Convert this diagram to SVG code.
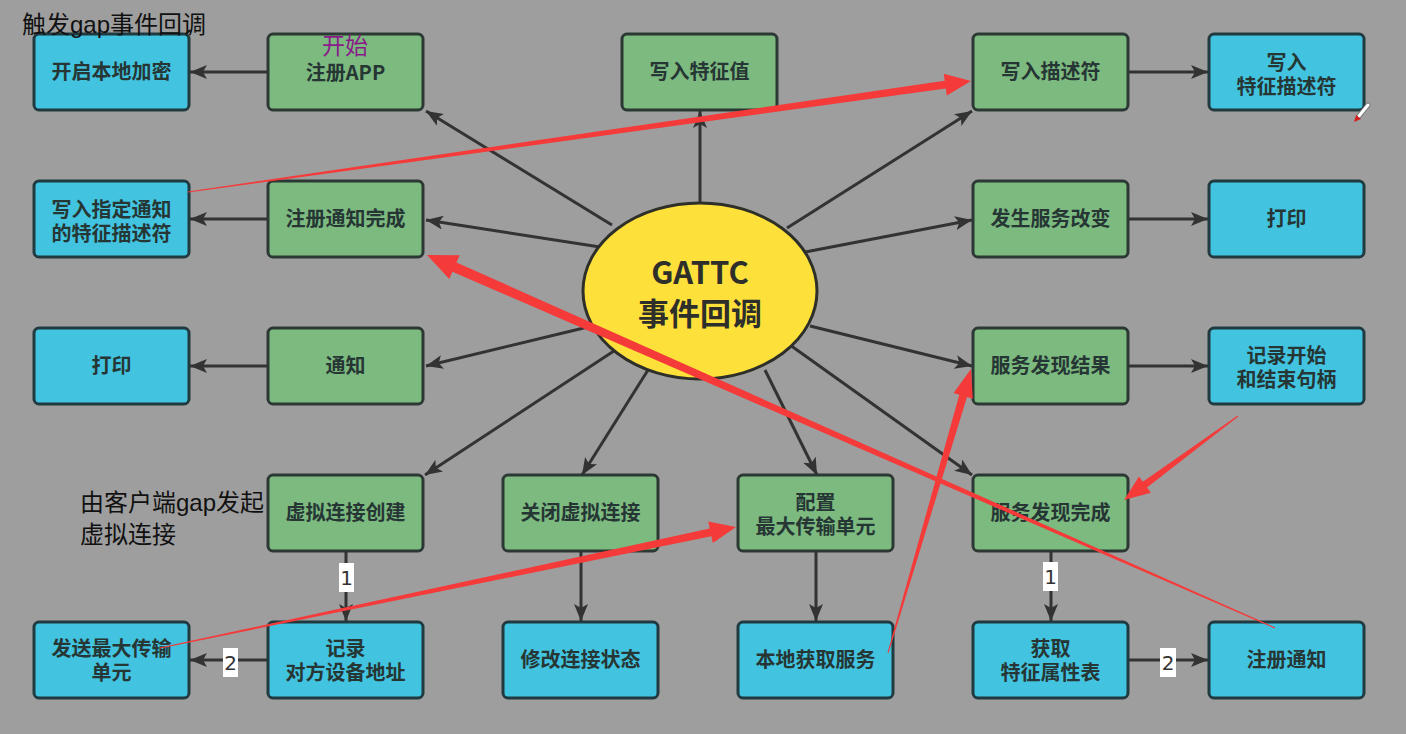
<svg xmlns="http://www.w3.org/2000/svg" width="1406" height="734" viewBox="0 0 1406 734">
<style>
.bg{fill:#9e9e9e}
.g{fill:#7cba80;stroke:#2c3833;stroke-width:3}
.b{fill:#42c3e0;stroke:#203a40;stroke-width:3}
.t{font-family:"Noto Sans CJK SC","Noto Sans",sans-serif;font-weight:bold;font-size:20px;fill:#263634;text-anchor:middle}
.c{stroke:#333;stroke-width:3;fill:none;marker-end:url(#ah)}
.lb{fill:#fff}
.lt{font-family:"DejaVu Sans",sans-serif;font-size:20px;fill:#333;text-anchor:middle}
.red{fill:#f53a3a}
.ann{font-family:"Liberation Sans","Noto Sans CJK SC",sans-serif;font-size:24px;fill:#111}
</style>
<defs>
<marker id="ah" markerUnits="userSpaceOnUse" markerWidth="18" markerHeight="14" refX="17" refY="7" orient="auto">
<path d="M0,0 L17,7 L0,14 L4,7 z" fill="#333"/>
</marker>
</defs>
<rect class="bg" x="0" y="0" width="1406" height="734"/>

<g id="connectors">
<line class="c" x1="612" y1="225" x2="426" y2="111"/>
<line class="c" x1="700" y1="206" x2="700" y2="111"/>
<line class="c" x1="787" y1="228" x2="972" y2="111"/>
<line class="c" x1="600" y1="247" x2="426" y2="220"/>
<line class="c" x1="800" y1="253" x2="972" y2="220"/>
<line class="c" x1="592" y1="326" x2="426" y2="366"/>
<line class="c" x1="810" y1="326" x2="972" y2="366"/>
<line class="c" x1="620" y1="347" x2="425" y2="475"/>
<line class="c" x1="648" y1="370" x2="582" y2="475"/>
<line class="c" x1="765" y1="370" x2="817" y2="475"/>
<line class="c" x1="790" y1="345" x2="972" y2="475"/>
<line class="c" x1="268" y1="72" x2="190" y2="72"/>
<line class="c" x1="268" y1="219" x2="190" y2="219"/>
<line class="c" x1="268" y1="366" x2="190" y2="366"/>
<line class="c" x1="1129" y1="72" x2="1208" y2="72"/>
<line class="c" x1="1129" y1="219" x2="1208" y2="219"/>
<line class="c" x1="1129" y1="366" x2="1208" y2="366"/>
<line class="c" x1="346" y1="552" x2="346" y2="621"/>
<line class="c" x1="268" y1="660" x2="190" y2="660"/>
<line class="c" x1="581" y1="552" x2="581" y2="621"/>
<line class="c" x1="816" y1="552" x2="816" y2="621"/>
<line class="c" x1="1051" y1="552" x2="1051" y2="621"/>
<line class="c" x1="1129" y1="660" x2="1208" y2="660"/>
<rect class="lb" x="339" y="563" width="15" height="29"/>
<text class="lt" x="346.5" y="585">1</text>
<rect class="lb" x="223" y="648" width="15" height="29"/>
<text class="lt" x="230.5" y="670">2</text>
<rect class="lb" x="1043" y="562" width="15" height="29"/>
<text class="lt" x="1050.5" y="584">1</text>
<rect class="lb" x="1160" y="648" width="16" height="29"/>
<text class="lt" x="1168" y="670">2</text>
</g>

<g id="center">
<ellipse cx="700" cy="291" rx="117" ry="88" fill="#fde13a" stroke="#2f2f2a" stroke-width="3"/>
<text x="700" y="284" font-family="'Noto Sans CJK SC','Noto Sans',sans-serif" font-weight="bold" font-size="31" fill="#2e2e2a" text-anchor="middle">GATTC</text>
<text x="700" y="325" font-family="'Noto Sans CJK SC',sans-serif" font-weight="bold" font-size="31" fill="#2e2e2a" text-anchor="middle">事件回调</text>
</g>

<g id="n1"><rect class="b" x="34" y="34" width="155" height="76" rx="5"/><text class="t" x="111.5" y="79">开启本地加密</text></g>
<g id="n2"><rect class="g" x="268" y="34" width="155" height="76" rx="5"/><text class="t" x="345.5" y="80">注册APP</text></g>
<g id="n3"><rect class="g" x="622" y="34" width="155" height="76" rx="5"/><text class="t" x="699.5" y="79">写入特征值</text></g>
<g id="n4"><rect class="g" x="973" y="34" width="155" height="76" rx="5"/><text class="t" x="1050.5" y="79">写入描述符</text></g>
<g id="n5"><rect class="b" x="1209" y="34" width="155" height="76" rx="5"/><text class="t" x="1286.5" y="70">写入<tspan x="1286.5" dy="24">特征描述符</tspan></text></g>
<g id="n6"><rect class="b" x="34" y="181" width="155" height="76" rx="5"/><text class="t" x="111.5" y="217">写入指定通知<tspan x="111.5" dy="24">的特征描述符</tspan></text></g>
<g id="n7"><rect class="g" x="268" y="181" width="155" height="76" rx="5"/><text class="t" x="345.5" y="226">注册通知完成</text></g>
<g id="n8"><rect class="g" x="973" y="181" width="155" height="76" rx="5"/><text class="t" x="1050.5" y="226">发生服务改变</text></g>
<g id="n9"><rect class="b" x="1209" y="181" width="155" height="76" rx="5"/><text class="t" x="1286.5" y="226">打印</text></g>
<g id="n10"><rect class="b" x="34" y="328" width="155" height="76" rx="5"/><text class="t" x="111.5" y="373">打印</text></g>
<g id="n11"><rect class="g" x="268" y="328" width="155" height="76" rx="5"/><text class="t" x="345.5" y="373">通知</text></g>
<g id="n12"><rect class="g" x="973" y="328" width="155" height="76" rx="5"/><text class="t" x="1050.5" y="373">服务发现结果</text></g>
<g id="n13"><rect class="b" x="1209" y="328" width="155" height="76" rx="5"/><text class="t" x="1286.5" y="363">记录开始<tspan x="1286.5" dy="24">和结束句柄</tspan></text></g>
<g id="n14"><rect class="g" x="268" y="475" width="155" height="76" rx="5"/><text class="t" x="345.5" y="520">虚拟连接创建</text></g>
<g id="n15"><rect class="g" x="503" y="475" width="155" height="76" rx="5"/><text class="t" x="580.5" y="520">关闭虚拟连接</text></g>
<g id="n16"><rect class="g" x="738" y="475" width="155" height="76" rx="5"/><text class="t" x="815.5" y="510">配置<tspan x="815.5" dy="24">最大传输单元</tspan></text></g>
<g id="n17"><rect class="g" x="973" y="475" width="155" height="76" rx="5"/><text class="t" x="1050.5" y="520">服务发现完成</text></g>
<g id="n18"><rect class="b" x="34" y="622" width="155" height="76" rx="5"/><text class="t" x="111.5" y="656">发送最大传输<tspan x="111.5" dy="24">单元</tspan></text></g>
<g id="n19"><rect class="b" x="268" y="622" width="155" height="76" rx="5"/><text class="t" x="345.5" y="656">记录<tspan x="345.5" dy="24">对方设备地址</tspan></text></g>
<g id="n20"><rect class="b" x="503" y="622" width="155" height="76" rx="5"/><text class="t" x="580.5" y="667">修改连接状态</text></g>
<g id="n21"><rect class="b" x="738" y="622" width="155" height="76" rx="5"/><text class="t" x="815.5" y="667">本地获取服务</text></g>
<g id="n22"><rect class="b" x="973" y="622" width="155" height="76" rx="5"/><text class="t" x="1050.5" y="656">获取<tspan x="1050.5" dy="24">特征属性表</tspan></text></g>
<g id="n23"><rect class="b" x="1209" y="622" width="155" height="76" rx="5"/><text class="t" x="1286.5" y="667">注册通知</text></g>

<g id="annotations">
<text class="ann" x="22" y="33">触发gap事件回调</text>
<text x="322" y="54" font-family="'Noto Sans CJK SC',sans-serif" font-size="23" fill="#8a1a8a">开始</text>
<text class="ann" x="80" y="511">由客户端gap发起<tspan x="80" dy="32">虚拟连接</tspan></text>
<polygon class="red" points="188.08,192.59 945.82,88.61 946.80,95.54 971,81 943.72,73.76 944.70,80.69 187.92,191.41"/>
<polygon class="red" points="1275.24,627.45 456.47,262.50 459.69,255.18 427,255 449.23,278.98 452.45,271.66 1274.76,628.55"/>
<polygon class="red" points="1237.70,415.60 1142.85,481.76 1139.00,476.53 1124,500 1150.86,492.63 1147.01,487.40 1238.30,416.40"/>
<polygon class="red" points="888.48,653.14 966.99,396.99 972.75,398.68 971,369 953.55,393.06 959.31,394.75 887.52,652.86"/>
<polygon class="red" points="160.10,648.49 711.38,536.26 712.82,543.11 736,527 708.30,521.59 709.74,528.44 159.90,647.51"/>
<line x1="1368" y1="105" x2="1359" y2="116" stroke="#777" stroke-width="5" stroke-linecap="round"/>
<line x1="1368" y1="105" x2="1359" y2="116" stroke="#fff" stroke-width="3" stroke-linecap="round"/>
<polygon points="1356,115 1361,119 1354,122" fill="#d42020"/>
</g>
</svg>
